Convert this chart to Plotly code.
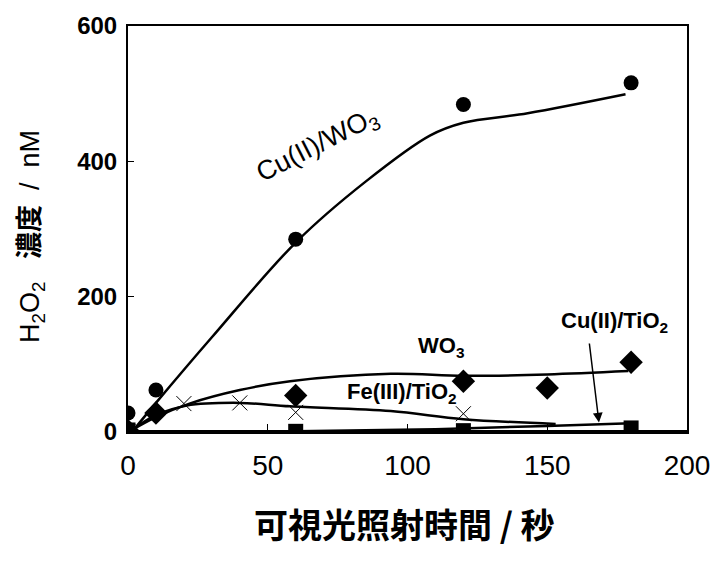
import plotly.graph_objects as go

# ---- data ----
t_cu_wo3 = [0, 10, 60, 120, 180]
v_cu_wo3 = [28, 62, 285, 484, 516]
t_wo3 = [0, 10, 60, 120, 150, 180]
v_wo3 = [2, 28, 54, 75, 65, 103]
t_fe = [0, 20, 40, 60, 120]
v_fe = [0, 42, 43, 29, 27]
t_cu_tio2 = [0, 60, 120, 180]
v_cu_tio2 = [3, 1, 2, 6]

# hand-drawn trend curves
ft_cu_wo3 = [2, 10, 30, 60, 85, 108, 120, 143, 178]
fv_cu_wo3 = [3, 43, 140, 280, 370, 438, 457, 471, 499]
ft_wo3 = [1, 10, 22, 40, 58, 94, 120, 150, 179]
fv_wo3 = [2, 22, 42, 62, 75, 86, 83, 85, 90]
ft_fe = [1, 10, 21, 40, 58, 94, 120, 153]
fv_fe = [2, 25, 39, 43, 38, 31, 19, 12]
ft_cu_tio2 = [0, 60, 110, 150, 180]
fv_cu_tio2 = [1, 1, 4, 9, 13]

x_ticks = [0, 50, 100, 150, 200]
y_ticks = [0, 200, 400, 600]

LAT = "Liberation Sans, Arial, sans-serif"
CJK = "Noto Sans CJK JP, sans-serif"

fig = go.Figure()

for tx, vy in [(ft_cu_wo3, fv_cu_wo3), (ft_wo3, fv_wo3), (ft_fe, fv_fe), (ft_cu_tio2, fv_cu_tio2)]:
    fig.add_trace(go.Scatter(x=tx, y=vy, mode="lines", line=dict(color="black", width=2.5, shape="spline"),
                             showlegend=False, hoverinfo="skip"))

fig.add_trace(go.Scatter(x=t_fe, y=v_fe, mode="markers",
                         marker=dict(symbol="x-thin-open", size=15, color="black", line=dict(width=1, color="black")),
                         showlegend=False))
fig.add_trace(go.Scatter(x=t_cu_tio2, y=v_cu_tio2, mode="markers",
                         marker=dict(symbol="square", size=15, color="black"), showlegend=False))
fig.add_trace(go.Scatter(x=t_wo3, y=v_wo3, mode="markers",
                         marker=dict(symbol="diamond", size=18, color="black"), showlegend=False))
fig.add_trace(go.Scatter(x=t_cu_wo3, y=v_cu_wo3, mode="markers",
                         marker=dict(symbol="circle", size=15, color="black"), showlegend=False))

fig.update_layout(
    width=727, height=569,
    margin=dict(l=128, r=40, t=16, b=137),
    paper_bgcolor="white", plot_bgcolor="white",
    xaxis=dict(range=[0, 200], tickvals=x_ticks, ticktext=[str(v) for v in x_ticks],
               showgrid=False, zeroline=False, showline=True, mirror=True, linecolor="black", linewidth=2,
               ticks="inside", ticklen=8, tickwidth=1, tickcolor="black", ticklabelstandoff=7,
               tickfont=dict(family=LAT, size=28, color="black")),
    yaxis=dict(range=[0, 600], tickvals=y_ticks, ticktext=[str(v) for v in y_ticks],
               showgrid=False, zeroline=False, showline=True, mirror=True, linecolor="black", linewidth=2,
               ticks="inside", ticklen=6, tickwidth=1, tickcolor="black", ticklabelstandoff=4,
               tickfont=dict(family=LAT, size=24, color="black", weight="bold")),
)

# thick bottom axis line
fig.add_shape(type="line", xref="paper", yref="paper", x0=0, x1=1, y0=0, y1=0,
              line=dict(color="black", width=4))

# axis titles
fig.add_annotation(xref="paper", yref="paper", x=0.5, y=0, xanchor="center", yanchor="middle",
                   yshift=-91, xshift=-3, showarrow=False,
                   text="可視光照射時間 / 秒", font=dict(family=CJK, size=34, color="black", weight="bold"))
fig.add_annotation(xref="paper", yref="paper", x=0, y=0.48, xanchor="center", yanchor="middle",
                   xshift=-96, showarrow=False, textangle=-90,
                   text="H<sub>2</sub>O<sub>2</sub>   <b>濃度</b>  /  nM",
                   font=dict(family=LAT + ", " + CJK, size=27, color="black"))

# series labels
fig.add_annotation(x=68, y=422, text="Cu(II)/WO<sub>3</sub>", showarrow=False, textangle=-27,
                   font=dict(family=LAT, size=27, color="black"))
fig.add_annotation(x=112, y=126, text="<b>WO<sub>3</sub></b>", showarrow=False,
                   font=dict(family=LAT, size=22, color="black"))
fig.add_annotation(x=98, y=57, text="<b>Fe(III)/TiO<sub>2</sub></b>", showarrow=False,
                   font=dict(family=LAT, size=22, color="black"))
fig.add_annotation(x=174, y=162, text="<b>Cu(II)/TiO<sub>2</sub></b>", showarrow=False,
                   font=dict(family=LAT, size=22, color="black"))
fig.add_annotation(x=168.5, y=14, ax=165, ay=133, xref="x", yref="y", axref="x", ayref="y",
                   text="", showarrow=True, arrowhead=2, arrowsize=1.3, arrowwidth=1.5, arrowcolor="black")

fig.write_html("out.html")
